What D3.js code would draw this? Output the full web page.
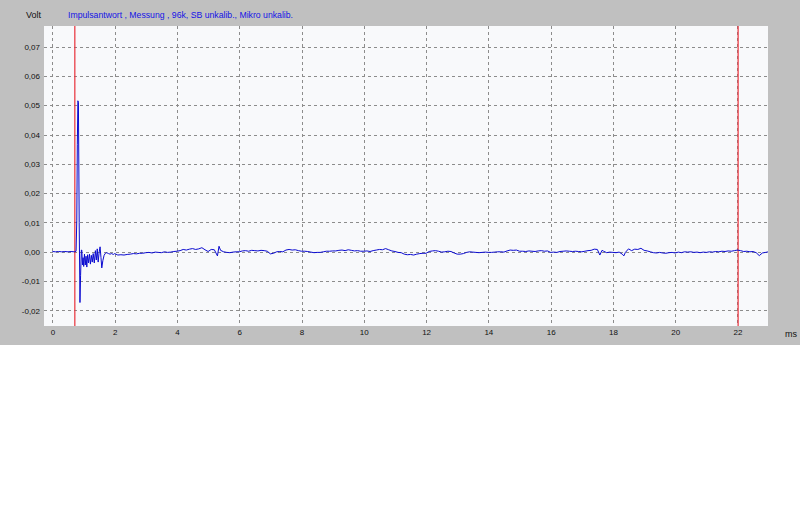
<!DOCTYPE html>
<html><head><meta charset="utf-8">
<script src="https://cdn.jsdelivr.net/npm/d3@7/dist/d3.min.js"></script>
<style>html,body{margin:0;padding:0;background:#fff;}svg{display:block;}</style>
</head><body>
<script>
// ---- data ----
const chartTitle = "Impulsantwort , Messung , 96k, SB unkalib., Mikro unkalib.";
const yUnit = "Volt";
const xUnit = "ms";
const xTicks = [0,2,4,6,8,10,12,14,16,18,20,22];
const yTicks = [-0.02,-0.01,0,0.01,0.02,0.03,0.04,0.05,0.06,0.07];
const markerTimes = [0.72, 22.02];
// impulse response: time (ms), voltage (V)
const times = [
 0.0,0.1,0.2,0.3,0.4,0.5,0.6,0.7,0.76,
 0.783,0.800,0.818,0.835,0.86,0.885,0.905,0.93,
 0.944,0.965,0.985,1.005,1.03,1.055,1.08,1.105,1.13,1.16,1.19,1.22,1.25,1.28,1.31,1.345,1.38,1.41,1.44,1.47,1.50,1.531,1.56,1.586,1.62,1.66,1.70,1.746,1.80,1.852,1.90,1.958,
 2.0,2.1,2.2,2.3,2.4,2.5,2.6,2.7,2.8,2.9,
 3.0,3.1,3.2,3.3,3.4,3.5,3.6,3.7,3.8,3.9,
 4.0,4.1,4.2,4.3,4.4,4.5,4.6,4.7,4.8,4.9,
 5.0,5.1,5.2,5.3,5.35,5.4,5.5,5.6,5.7,5.8,5.9,
 6.0,6.1,6.2,6.3,6.4,6.5,6.6,6.7,6.8,6.9,
 7.0,7.1,7.2,7.3,7.4,7.5,7.6,7.7,7.8,7.9,
 8.0,8.1,8.2,8.3,8.4,8.5,8.6,8.7,8.8,8.9,
 9.0,9.1,9.2,9.3,9.4,9.5,9.6,9.7,9.8,9.9,
 10.0,10.1,10.2,10.3,10.4,10.5,10.6,10.7,10.8,10.9,
 11.0,11.1,11.2,11.3,11.4,11.5,11.6,11.7,11.8,11.9,
 12.0,12.1,12.2,12.3,12.4,12.5,12.6,12.7,12.8,12.9,
 13.0,13.1,13.2,13.3,13.4,13.5,13.6,13.7,13.8,13.9,
 14.0,14.1,14.2,14.3,14.4,14.5,14.6,14.7,14.8,14.9,
 15.0,15.1,15.2,15.3,15.4,15.5,15.6,15.7,15.8,15.9,
 16.0,16.1,16.2,16.3,16.4,16.5,16.6,16.7,16.8,16.9,
 17.0,17.1,17.2,17.3,17.4,17.5,17.58,17.65,17.7,17.8,17.9,
 18.0,18.1,18.2,18.3,18.35,18.4,18.5,18.6,18.7,18.8,18.9,
 19.0,19.1,19.2,19.3,19.4,19.5,19.6,19.7,19.8,19.9,
 20.0,20.1,20.2,20.3,20.4,20.5,20.6,20.7,20.8,20.9,
 21.0,21.1,21.2,21.3,21.4,21.5,21.6,21.7,21.8,21.9,
 22.0,22.1,22.2,22.3,22.4,22.5,22.6,22.7,22.8,22.9,23.0
];
const volts = [
 0.0001,0.0000,0.0001,0.0000,0.0001,0.0000,0.0001,0.0000,0.0002,
 0.0108,0.0365,0.0515,0.0510,0.0100,-0.0173,-0.0080,0.0006,
 0.0006,-0.0045,-0.0020,-0.0050,-0.0008,-0.0045,-0.0015,-0.0052,-0.0010,-0.0038,-0.0008,-0.0042,-0.0012,-0.0035,-0.0006,-0.0038,0.0004,-0.0028,0.0010,-0.0035,-0.0002,0.0017,-0.0020,-0.0055,-0.0030,-0.0012,-0.0005,-0.0003,-0.0006,-0.0008,-0.0006,-0.0009,
 -0.0006,-0.0011,-0.0010,-0.0011,-0.0009,-0.0008,-0.0006,-0.0007,-0.0005,-0.0005,
 -0.0003,-0.0002,-0.0004,-0.0001,-0.0002,-0.0003,0.0000,-0.0002,-0.0001,0.0001,
 0.0002,0.0004,0.0008,0.0006,0.0009,0.0011,0.0008,0.0010,0.0014,0.0007,
 0.0001,0.0008,0.0007,-0.0014,0.0019,0.0005,0.0000,-0.0002,-0.0003,-0.0001,0.0000,
 0.0000,0.0003,0.0004,0.0002,0.0005,0.0004,0.0003,0.0005,0.0004,0.0002,
 -0.0007,-0.0005,0.0000,0.0001,0.0000,0.0006,0.0008,0.0006,0.0007,0.0004,
 0.0002,0.0002,0.0001,-0.0001,-0.0003,-0.0002,-0.0002,0.0000,0.0002,0.0002,
 0.0003,0.0003,0.0005,0.0006,0.0004,0.0007,0.0005,0.0003,0.0004,0.0002,
 0.0002,0.0003,0.0001,0.0004,0.0006,0.0008,0.0007,0.0011,0.0007,0.0003,
 0.0001,-0.0002,-0.0003,-0.0008,-0.0010,-0.0009,-0.0011,-0.0008,-0.0006,-0.0005,
 -0.0005,0.0001,0.0003,0.0004,0.0002,-0.0001,0.0000,0.0002,0.0001,-0.0004,
 -0.0008,-0.0008,-0.0006,-0.0002,0.0000,-0.0001,-0.0002,-0.0003,-0.0002,-0.0001,
 -0.0002,-0.0002,-0.0001,0.0000,0.0000,-0.0001,0.0003,0.0006,0.0005,0.0006,
 0.0002,0.0002,0.0001,0.0003,0.0002,0.0001,0.0003,0.0004,0.0002,0.0003,
 -0.0002,-0.0001,-0.0002,0.0001,0.0002,0.0003,0.0002,0.0001,0.0002,0.0001,
 0.0000,0.0002,0.0004,0.0005,0.0009,0.0008,-0.0011,0.0005,0.0002,-0.0003,-0.0001,
 -0.0002,-0.0003,-0.0001,-0.0008,-0.0014,-0.0002,0.0010,0.0004,0.0009,0.0008,0.0012,
 0.0005,0.0003,0.0000,-0.0003,-0.0004,-0.0002,-0.0004,-0.0005,-0.0003,-0.0002,
 -0.0004,-0.0001,-0.0003,0.0000,-0.0001,0.0000,-0.0002,-0.0001,-0.0003,-0.0001,
 -0.0002,0.0000,-0.0001,0.0001,0.0000,0.0002,0.0001,0.0003,0.0002,0.0004,
 0.0006,0.0004,0.0001,0.0002,0.0000,0.0001,-0.0003,-0.0013,-0.0004,-0.0002,0.0000
];

// ---- layout ----
const W = 800, H = 525;
const plot = {left: 44, right: 768, top: 26, bottom: 326};
const svg = d3.select("body").append("svg").attr("width", W).attr("height", H);
svg.append("rect").attr("x",0).attr("y",0).attr("width",W).attr("height",H).attr("fill","#ffffff");
svg.append("rect").attr("x",0).attr("y",0).attr("width",W).attr("height",345).attr("fill","#c0c0c0");
svg.append("rect").attr("x",plot.left).attr("y",plot.top)
  .attr("width",plot.right-plot.left).attr("height",plot.bottom-plot.top).attr("fill","#f8f9fb");

const x = d3.scaleLinear().domain([-0.27, 22.98]).range([plot.left, plot.right]);
const y = d3.scaleLinear().domain([-0.0253, 0.077]).range([plot.bottom, plot.top]);

const font = "'Liberation Sans', Arial, sans-serif";
const fmt = v => d3.format(".2f")(v).replace("−","-").replace(".", ",");

// grid
const grid = svg.append("g").attr("stroke","#8c8c8c").attr("stroke-width",1).attr("fill","none");
grid.selectAll("line.h").data(yTicks).enter().append("line")
  .attr("x1",plot.left).attr("x2",plot.right)
  .attr("y1",d=>Math.round(y(d))+0.5).attr("y2",d=>Math.round(y(d))+0.5)
  .attr("stroke-dasharray","3,3");
grid.selectAll("line.v").data(xTicks).enter().append("line")
  .attr("y1",plot.top).attr("y2",plot.bottom)
  .attr("x1",d=>Math.round(x(d))+0.5).attr("x2",d=>Math.round(x(d))+0.5)
  .attr("stroke-dasharray","3,3");

// axes labels via d3 axes (lines hidden)
const yAxis = svg.append("g").attr("transform",`translate(${plot.left},0)`)
  .call(d3.axisLeft(y).tickValues(yTicks).tickFormat(fmt).tickSize(0).tickPadding(4));
const xAxis = svg.append("g").attr("transform",`translate(0,${plot.bottom})`)
  .call(d3.axisBottom(x).tickValues(xTicks).tickFormat(d3.format("d")).tickSize(0).tickPadding(3));
[yAxis,xAxis].forEach(a=>{
  a.select(".domain").remove();
  a.selectAll("text").attr("font-family",font).attr("font-size","8px").attr("fill","#111");
});

// clip
svg.append("clipPath").attr("id","clip").append("rect")
  .attr("x",plot.left).attr("y",plot.top).attr("width",plot.right-plot.left).attr("height",plot.bottom-plot.top);

// markers
svg.append("g").attr("clip-path","url(#clip)").selectAll("line").data(markerTimes).enter().append("line")
  .attr("x1",d=>x(d)).attr("x2",d=>x(d)).attr("y1",plot.top).attr("y2",plot.bottom)
  .attr("stroke","#e8303a").attr("stroke-width",1.2);

// signal
const pts = times.map((t,i)=>[t, volts[i]]);
svg.append("path").attr("clip-path","url(#clip)").datum(pts)
  .attr("d", d3.line().x(d=>x(d[0])).y(d=>y(d[1])))
  .attr("fill","none").attr("stroke","#0a0ad0").attr("stroke-width",1);

// titles
svg.append("text").attr("x",26).attr("y",18).text(yUnit)
  .attr("font-family",font).attr("font-size","9px").attr("fill","#111");
svg.append("text").attr("x",68).attr("y",18).text(chartTitle)
  .attr("font-family",font).attr("font-size","8.7px").attr("fill","#1414e6");
svg.append("text").attr("x",785).attr("y",337).text(xUnit)
  .attr("font-family",font).attr("font-size","9px").attr("fill","#111");
</script>
</body></html>
